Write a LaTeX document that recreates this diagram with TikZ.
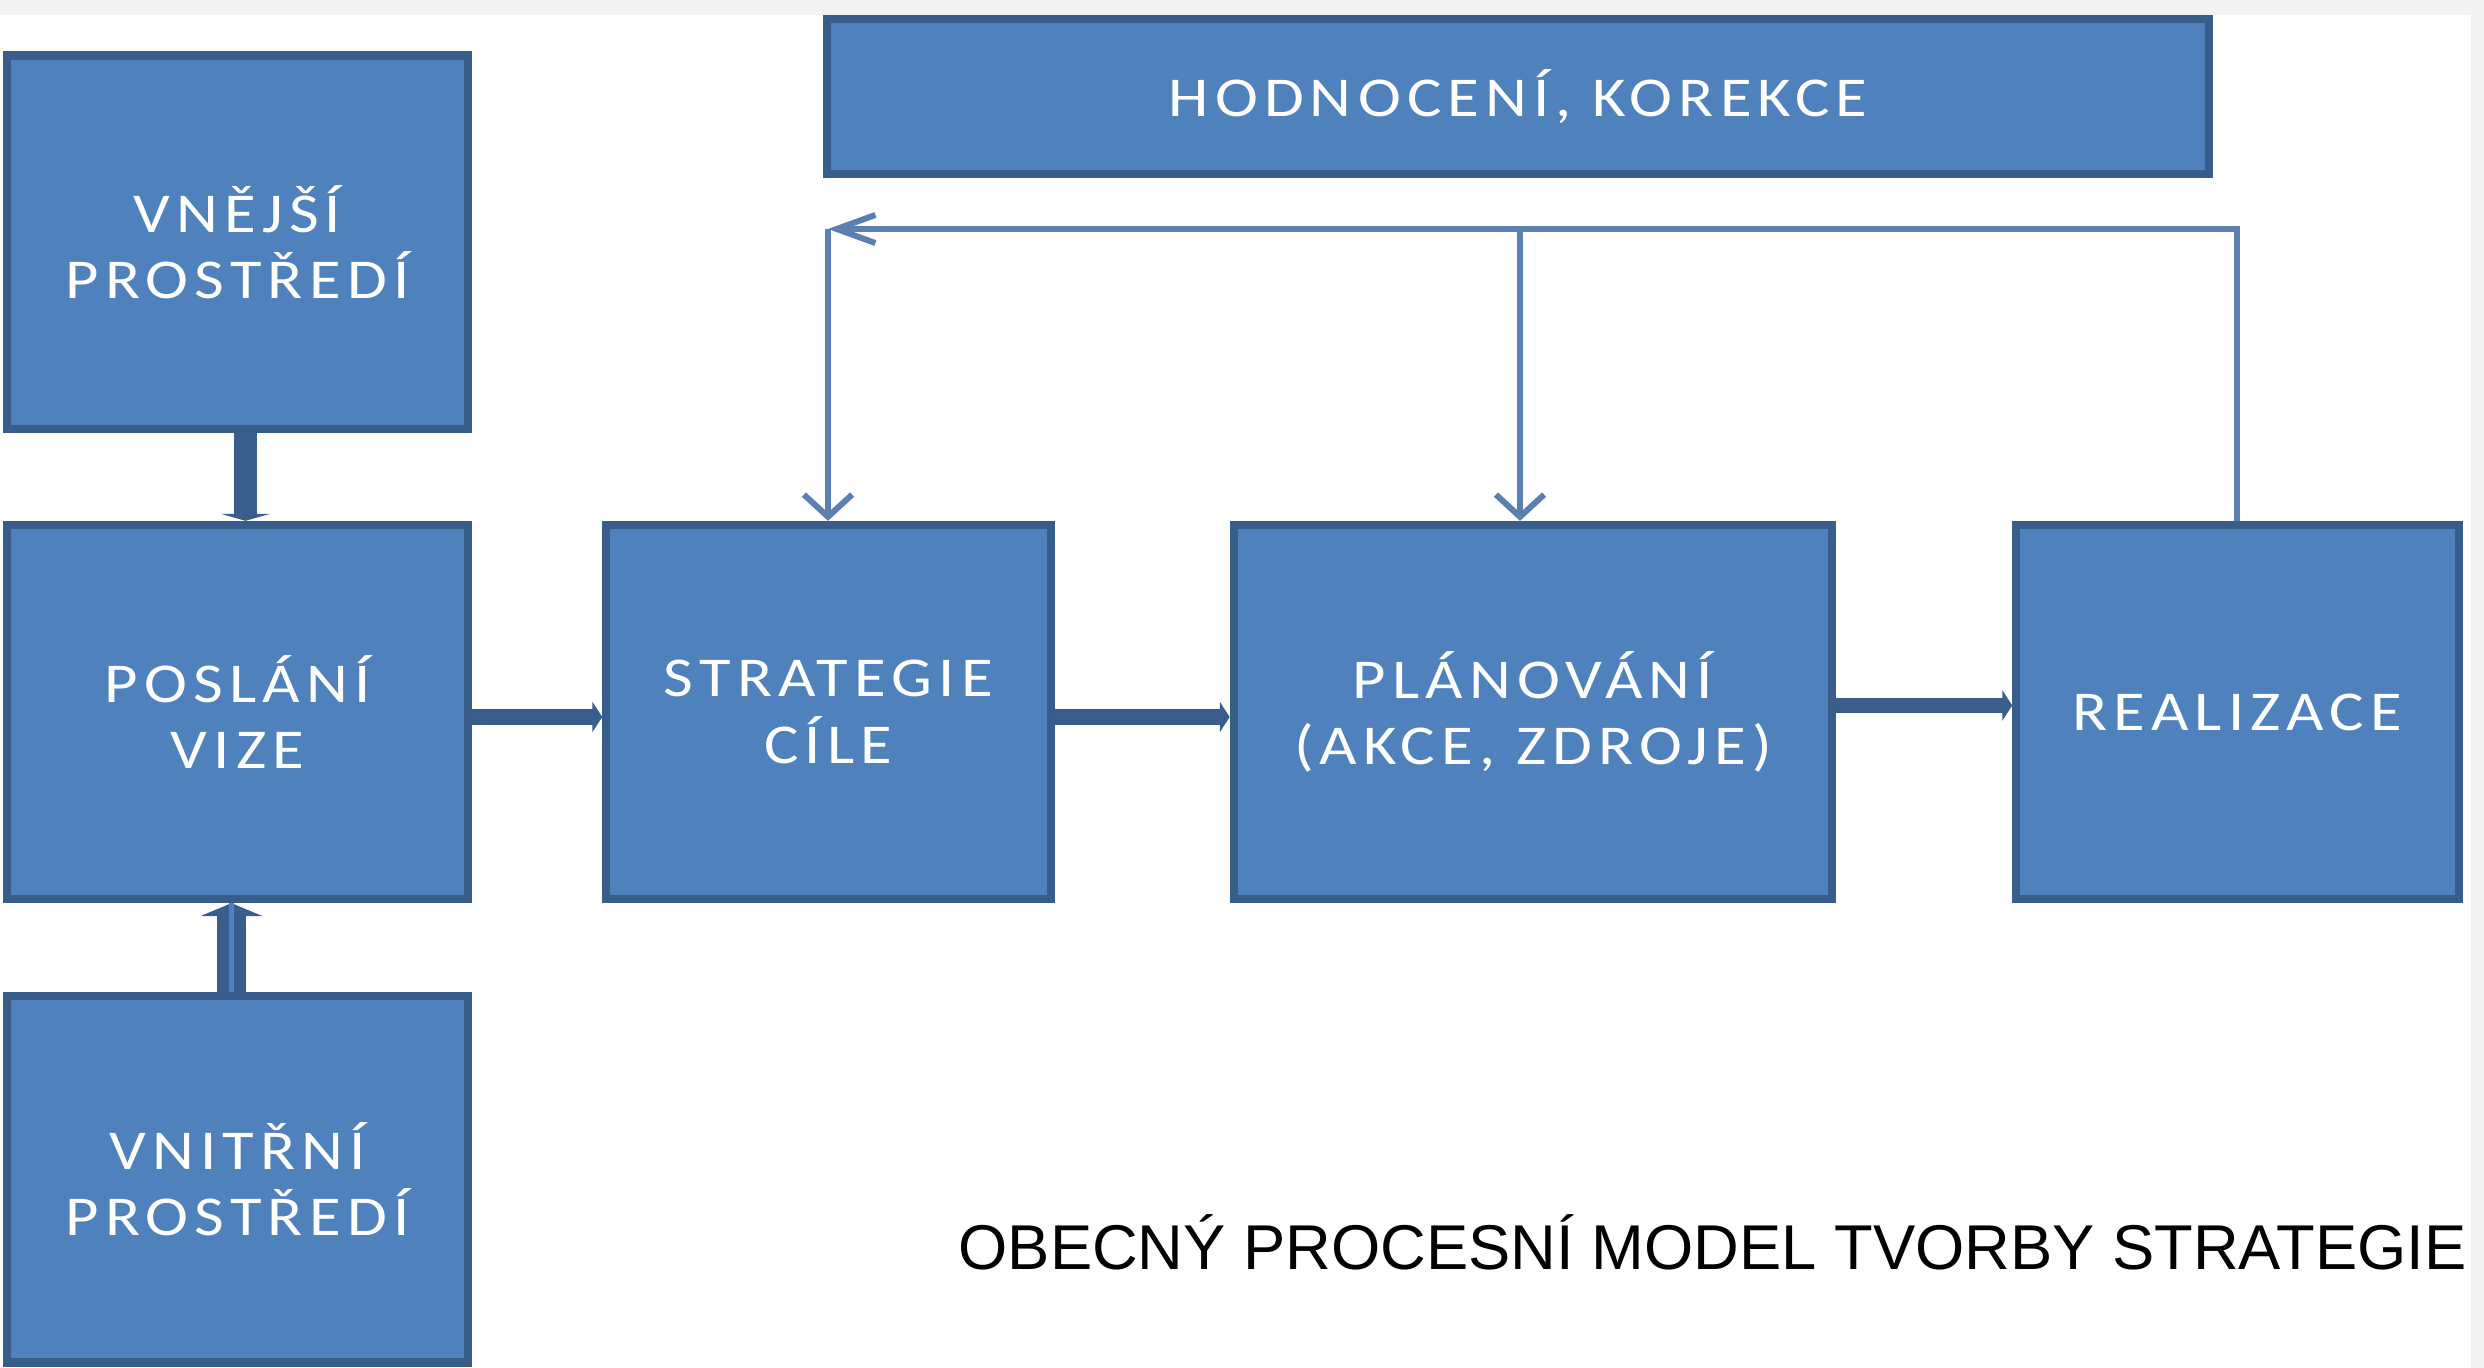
\documentclass[tikz,border=0pt]{standalone}
\usepackage{fontspec}
\setmainfont{Liberation Sans}
\newfontfamily\blokfont{Carlito}[LetterSpace=11,FakeStretch=1.15]
\usetikzlibrary{positioning,arrows.meta}
\definecolor{blokfill}{HTML}{4F81BD}
\definecolor{blokline}{HTML}{385D8A}
\definecolor{sipka}{HTML}{3A5E8C}
\definecolor{zpetna}{HTML}{5A80B2}
\definecolor{pruh}{HTML}{F2F2F2}

\begin{document}
\begin{tikzpicture}[x=0.01cm,y=-0.01cm,
  blok/.style = {draw=blokline, fill=blokfill, line width=2.3pt, text=white, align=center, inner sep=0pt, font=\blokfont\fontsize{16}{18.8}\selectfont},
  tlusta/.style = {draw=sipka, line width=4.4pt, -{Triangle[length=2.8pt,width=8.5pt]}},
  zpet/.style = {draw=zpetna, line width=1.7pt}]
\useasboundingbox (0,0) rectangle (2484,1368);
\fill[pruh] (0,0) rectangle (2484,1368);
\fill[white] (0,15) rectangle (2471,1368);

\node[blok, minimum width=4.61cm, minimum height=3.74cm] (poslani) at (237.5,712) {POSLÁNÍ\\VIZE};
\node[blok, minimum width=4.61cm, minimum height=3.73cm] (vnejsi) [above=0.88cm of poslani] {VNĚJŠÍ\\PROSTŘEDÍ};
\node[blok, minimum width=4.61cm, minimum height=3.66cm] (vnitrni) [below=0.89cm of poslani] {VNITŘNÍ\\PROSTŘEDÍ};
\node[blok, minimum width=4.44cm, minimum height=3.74cm] (strategie) [right=1.30cm of poslani] {STRATEGIE\\CÍLE};
\node[blok, minimum width=5.98cm, minimum height=3.74cm] (planovani) [right=1.75cm of strategie] {PLÁNOVÁNÍ\\(AKCE, ZDROJE)};
\node[blok, minimum width=4.42cm, minimum height=3.74cm] (realizace) [right=1.76cm of planovani] {REALIZACE};
\node[blok, minimum width=13.82cm, minimum height=1.55cm] (hodnoceni) at (1518,96.5) {HODNOCENÍ, KOREKCE};

\node[anchor=base east, inner sep=0pt, font=\fontsize{18}{22}\selectfont] (nazev) at (2467,1270) {OBECNÝ PROCESNÍ MODEL TVORBY STRATEGIE};

\coordinate (roh) at (828,229);
\coordinate (odbocka) at (1520,229);

\draw[tlusta, line width=6.5pt, -{Triangle[length=2pt,width=14pt]}] ([xshift=0.08cm]vnejsi.south) -- ([xshift=0.08cm]poslani.north);
\draw[tlusta, line width=8.2pt, -{Triangle[length=3.7pt,width=17.6pt]}] ([xshift=-0.06cm]vnitrni.north) -- ([xshift=-0.06cm]poslani.south);
\draw[blokfill, line width=1.4pt] ([xshift=-0.06cm]vnitrni.north) -- ([xshift=-0.06cm]poslani.south);
\draw[tlusta] ([yshift=-0.05cm]poslani.east) -- ([yshift=-0.05cm]strategie.west);
\draw[tlusta] ([yshift=-0.05cm]strategie.east) -- ([yshift=-0.05cm]planovani.west);
\draw[tlusta] ([yshift=0.065cm]planovani.east) -- ([yshift=0.065cm]realizace.west);

\draw[zpet, -{Straight Barb[length=11pt,width=8pt]}] (realizace.north) |- (roh);
\draw[zpet, -{Straight Barb[length=6.3pt,width=13.7pt]}] (roh) -- (roh |- strategie.north);
\draw[zpet, -{Straight Barb[length=6.3pt,width=13.7pt]}] (odbocka) -- (odbocka |- planovani.north);
\end{tikzpicture}
\end{document}
